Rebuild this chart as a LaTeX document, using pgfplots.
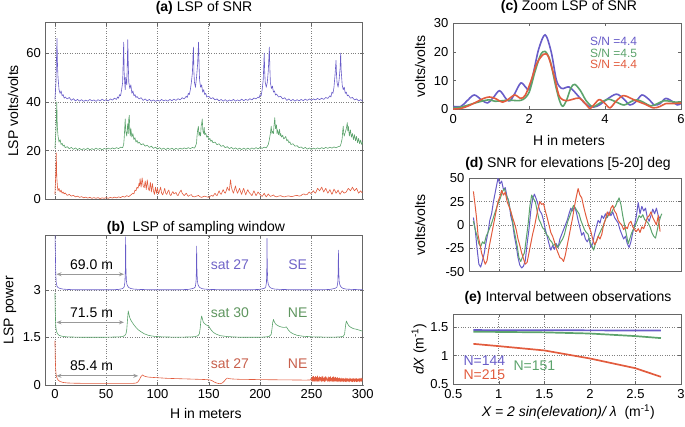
\documentclass[border=0pt]{standalone}
\usepackage{fontspec}
\setmainfont{Liberation Sans}
\usepackage{pgfplots}
\pgfplotsset{compat=1.18}
\usetikzlibrary{arrows.meta}
\definecolor{cb}{RGB}{104,92,200}
\definecolor{cg}{RGB}{92,163,108}
\definecolor{cr}{RGB}{226,92,62}
\definecolor{tb}{RGB}{112,100,200}
\definecolor{tg}{RGB}{95,150,95}
\definecolor{tr}{RGB}{200,96,76}
\pgfplotsset{
  P/.style={scale only axis, anchor=south west,
    axis line style={draw=black!60, line width=0.7pt},
    tick style={draw=black!60, line width=0.5pt},
    major tick length=3pt,
    grid style={dotted, black!50, line width=0.7pt},
    tick label style={font=\fontsize{13}{15}\selectfont},
    /pgf/number format/assume math mode=true,
    every axis plot/.append style={line join=round, line width=0.6pt},
  },
}
\begin{document}
\fontsize{14}{16.8}\selectfont
\begin{tikzpicture}
\useasboundingbox (0pt,0pt) rectangle (685pt,426pt);
% ---------------- (a)
\begin{axis}[P, at={(45.7pt,226.7pt)}, width=317pt, height=176.6pt,
  xmin=-9, xmax=300, ymin=0, ymax=72.5,
  xtick={0,50,...,300}, xticklabels={}, ytick={0,20,40,60},
  xmajorgrids, ymajorgrids]
\addplot[cb] coordinates {(0,41)(1,48)(2,66)(2.5,55)(3,50)(4,45)(5,43.5)(6,44.5)(7,42.5)(8,43)(9,41.5)(10,42)(12,41.2)(14,41.8)(16,40.6)(18,41.3)(20,40.4)(22,41)(24,40.3)(26,40.9)(28,40.2)(30,40.7)(32,40.3)(34,41)(36,40.4)(38,40.8)(40,40.2)(42,40.9)(44,40.4)(46,41.1)(48,40.5)(50,40.9)(52,40.4)(54,41.2)(56,40.7)(58,41.5)(60,41)(61,42)(62,41.5)(63,43)(64,42.5)(65,45)(66,48)(66.5,56)(67,64.5)(67.5,52)(68,48)(68.5,45)(69,50)(70,47)(70.5,55)(71,65.5)(71.5,55)(72,48)(73,45.5)(74,47)(75,43.5)(76,44.5)(77,42.5)(78,43)(79,41.8)(80,42.2)(82,41.2)(84,41.7)(86,40.6)(88,41.2)(90,40.4)(92,41)(94,40.3)(96,40.8)(98,40.2)(100,40.7)(102,40.3)(104,41)(106,40.4)(108,40.8)(110,40.3)(112,41)(114,40.5)(116,41.1)(118,40.6)(120,41.3)(122,40.8)(124,41.7)(126,41.2)(128,42.3)(129,41.8)(130,43.5)(131,43)(132,45)(133,48)(134,52)(134.5,58)(135,62.5)(135.5,52)(136,48)(137,46)(138,50)(139,55)(140,64.5)(140.5,55)(141,49)(142,46)(143,47)(144,44)(145,45)(146,43)(147,43.5)(148,42)(150,42.3)(152,41.3)(154,41.7)(156,40.8)(158,41.2)(160,40.4)(162,41)(164,40.3)(166,40.9)(168,40.2)(170,40.8)(172,40.4)(174,41)(176,40.3)(178,40.8)(180,40.4)(182,41.1)(184,40.5)(186,41)(188,40.6)(190,41.3)(192,40.8)(194,41.6)(196,41.2)(198,42)(199,41.6)(200,43)(201,42.5)(202,45)(203,49)(203.5,54)(204,60)(204.5,52)(205,48)(206,46)(207,48)(208,53)(209,62.5)(209.5,54)(210,48)(211,45.5)(212,46.5)(213,44)(214,44.5)(215,42.8)(216,43.2)(218,42)(220,42.3)(222,41.2)(224,41.7)(226,40.6)(228,41.2)(230,40.4)(232,41)(234,40.3)(236,40.9)(238,40.4)(240,41)(242,40.5)(244,41.1)(246,40.6)(248,41.2)(250,40.7)(252,41.2)(254,40.8)(256,41.4)(258,40.9)(260,41.5)(262,41)(264,41.8)(266,41.4)(268,42.5)(269,42)(270,44)(271,43.5)(272,46)(273,51)(274,57)(274.5,51)(275,48)(276,46)(277,49)(278,54)(278.5,60)(279,53)(280,47)(281,45)(282,46)(283,43.5)(284,44)(285,42.5)(286,42.8)(288,41.5)(290,41.8)(292,40.8)(294,41.2)(296,40.4)(298,40.9)(300,40.3)};
\addplot[cg] coordinates {(0,21)(1,28)(1.8,40)(2.3,30)(3,26)(4,23.5)(5,24.5)(6,22.5)(7,23)(8,21.8)(9,22.3)(10,21.2)(12,21.6)(14,20.8)(16,21.3)(18,20.5)(20,21.1)(22,20.4)(24,20.9)(26,20.3)(28,20.8)(30,20.4)(32,21)(34,20.3)(36,20.8)(38,20.4)(40,21)(42,20.5)(44,20.9)(46,20.3)(48,20.9)(50,20.5)(52,21)(54,20.6)(56,21.1)(58,20.7)(60,21.2)(62,20.8)(64,21.4)(66,21.2)(67,22.5)(67.5,25)(68,29)(68.5,33)(69,28)(70,26)(70.5,29)(71,31)(71.5,27)(72,33)(72.5,34.5)(73,28)(73.5,26)(74,29)(75,25.5)(76,27)(77,24.5)(78,25.3)(79,23.5)(80,24.2)(81,23)(82,23.5)(84,22.4)(86,22.8)(88,21.8)(90,22.2)(92,21.3)(94,21.8)(96,20.9)(98,21.4)(100,20.6)(102,21.2)(104,20.5)(106,21)(108,20.4)(110,21)(112,20.5)(114,21)(116,20.4)(118,20.9)(120,20.5)(122,21)(124,20.6)(126,21.1)(128,20.7)(130,21.2)(132,20.8)(134,21.3)(136,21)(137,21.8)(138,23)(138.5,26)(139,28)(139.8,30)(140.5,26)(141,27.5)(142,26)(142.5,30)(143,31)(143.6,33)(144.2,28)(145,27)(145.5,29.5)(146,26.5)(147,27.2)(148,25.5)(149,26)(150,24.5)(151,25)(152,23.8)(153,24.3)(154,23.2)(156,23.5)(158,22.4)(160,22.8)(162,21.7)(164,22.1)(166,21.2)(168,21.6)(170,20.8)(172,21.3)(174,20.6)(176,21.1)(178,20.5)(180,21)(182,20.4)(184,21)(186,20.5)(188,21)(190,20.5)(192,21.1)(194,20.6)(196,21.2)(198,20.7)(200,21.3)(202,20.9)(204,21.4)(206,21.1)(207,21.8)(208,22.5)(209,24.5)(210,27)(210.8,30)(211.5,27)(212,28)(213,27)(213.5,30)(214.3,33.5)(215,29)(216,30.5)(216.5,27)(217,28.5)(218,26.5)(219,28.7)(219.5,26)(220,27)(221,25.5)(222,26.3)(223,24.8)(224,25.2)(225,25.8)(226,24)(227,24.5)(228,23.2)(229,23.6)(230,22.5)(232,22.8)(234,21.8)(236,22)(238,21.2)(240,21.5)(242,20.8)(244,21.3)(246,20.6)(248,21.1)(250,20.5)(252,21)(254,20.6)(256,21.1)(258,20.7)(260,21.2)(262,20.8)(264,21.3)(266,20.9)(268,21.4)(270,21)(272,21.5)(274,21.1)(276,21.6)(278,21.8)(279,23)(280,25)(280.5,28)(281,30)(281.5,27)(282,26)(283,27.5)(284,29)(285,31.5)(285.5,28)(286,30)(287,26)(288,28.5)(289,25.5)(290,27)(291,24.5)(292,26.5)(293,24)(294,25.8)(295,23.2)(296,25)(297,22.8)(298,24.3)(299,22.5)(300,23.5)};
\addplot[cr] coordinates {(0,2)(0.8,10)(1.3,19)(1.8,9)(2.5,5)(3,3.5)(4,4.5)(5,3)(6,3.8)(7,2.5)(8,3)(9,2.2)(10,2.6)(12,1.6)(14,2)(16,1.3)(18,1.6)(20,1)(22,1.3)(24,0.8)(26,1.1)(28,0.6)(30,0.9)(32,0.5)(34,0.8)(36,0.4)(38,0.7)(40,0.4)(42,0.7)(44,0.3)(46,0.6)(48,0.4)(50,0.7)(52,0.4)(54,0.8)(56,0.5)(58,0.9)(60,0.6)(62,1)(64,0.7)(66,1.2)(68,0.9)(70,1.5)(72,1.1)(74,1.8)(76,2.5)(77,2.2)(78,3.8)(79,3.5)(80,5)(81,4.5)(82,6.5)(82.5,5.5)(83,8.5)(84,5)(85,8.8)(86,5.5)(87,4.8)(88,7.5)(89,4)(90,8)(91,4.5)(92,3.5)(93,7)(94,3)(95,6.5)(96,3.5)(97,2)(98,5)(99,2.5)(100,4.5)(101,2.2)(102,3.5)(103,5)(104,2.5)(105,1.8)(106,3)(107,4.5)(108,2.5)(109,2)(110,3.2)(111,3.8)(112,2)(113,1.5)(114,2.5)(115,3.2)(116,2.2)(118,2.8)(119,1.8)(120,1.5)(121,2.5)(123,3.8)(124,2.5)(126,1.5)(127,2)(128,2.5)(129,1.8)(130,1.2)(131,1.6)(133,1.9)(134,1.2)(136,1)(138,1.3)(140,1.6)(141,1.1)(143,0.8)(144,1)(146,1.3)(148,1)(150,0.8)(151,1.2)(153,1.6)(154,1.2)(156,2.5)(157,1.8)(158,1.5)(159,2.5)(160,3.5)(161,2.5)(162,2)(163,3)(164,4)(165,3)(166,2.5)(167,3.5)(168,5)(169,4)(170,3.5)(170.6,6)(171.2,8)(172,5)(173,3.5)(174,2.5)(175,4)(176,5.5)(177,3.5)(178,2.5)(179,3.5)(180,4.5)(181,3)(182,2)(183,3.5)(184,4.5)(185,3)(186,1.8)(187,3)(188,4)(189,3)(190,2.5)(191,2)(192,1.5)(193,2.5)(194,3.5)(195,2.5)(196,1.5)(197,2.2)(198,3)(199,2.4)(200,2)(201,1.5)(202,1.2)(203,1.8)(204,2.5)(205,1.6)(206,1)(207,1.6)(208,2.2)(209,1.6)(210,1.2)(212,1.5)(213,1.8)(214,1.3)(216,1)(218,1.3)(220,1.5)(222,1.1)(224,1)(226,1.3)(228,1.4)(230,1.1)(232,1.2)(234,1.5)(236,1.6)(238,1.3)(240,1.5)(241,2)(243,2.2)(244,1.8)(246,2)(247,2.6)(248,3)(249,2.4)(250,2.5)(251,3)(252,3.5)(253,2.8)(254,2.5)(255,3.5)(256,4.5)(257,4)(258,3.5)(259,4.2)(260,5)(261,4)(262,3)(263,3.8)(264,4.5)(265,3.5)(266,2.5)(267,3.2)(268,4)(269,3)(270,2)(271,3)(272,4.2)(273,3.5)(274,2.5)(275,3)(276,3.8)(277,2.8)(278,2)(279,2.8)(280,3.5)(281,3)(282,2.5)(283,2.8)(284,3)(285,3.8)(286,4.5)(287,4)(288,3.5)(289,4.2)(290,5)(291,4.2)(292,3.5)(293,4)(294,4.5)(295,3.5)(296,2.5)(297,3)(298,3.5)(299,2.8)(300,3)};
\end{axis}
% ---------------- (b)
\begin{axis}[P, at={(45.7pt,41pt)}, width=317pt, height=150pt,
  xmin=-9, xmax=300, ymin=0, ymax=4.74,
  xtick={0,50,...,300}, ytick={0,1.5,3},
  xmajorgrids, ymajorgrids]
\addplot[cb] coordinates {(0,5)(0.4,4.2)(0.8,3.5)(1.2,3.25)(2,3.12)(3,3.08)(5,3.05)(8,3.03)(12,3.02)(20,3.01)(40,3.01)(55,3.01)(62,3.02)(65,3.04)(66.5,3.06)(67.5,3.1)(68.2,3.25)(68.6,3.6)(68.9,4.68)(69.2,3.7)(69.6,3.3)(70.2,3.18)(71,3.12)(72,3.08)(74,3.05)(77,3.03)(82,3.02)(95,3.01)(120,3.01)(130,3.02)(133,3.04)(135.5,3.06)(136.8,3.1)(137.5,3.25)(137.9,3.6)(138.1,4.39)(138.4,3.7)(138.8,3.3)(139.4,3.18)(140.2,3.12)(141.2,3.08)(143,3.05)(146,3.03)(151,3.02)(165,3.01)(190,3.01)(199,3.02)(202,3.04)(204.5,3.06)(205.5,3.1)(206.2,3.25)(206.5,3.6)(206.7,4.63)(207,3.7)(207.4,3.3)(208,3.18)(208.8,3.12)(209.8,3.08)(211.5,3.05)(214.5,3.03)(220,3.02)(235,3.01)(260,3.01)(268,3.02)(271,3.04)(273.5,3.06)(275,3.1)(275.7,3.25)(276.1,3.6)(276.3,4.26)(276.6,3.7)(277,3.3)(277.6,3.18)(278.4,3.12)(279.4,3.08)(281,3.05)(284,3.03)(290,3.02)(300,3.01)};
\addplot[cg] coordinates {(0,2.9)(0.4,2.2)(0.8,1.85)(1.5,1.7)(2.5,1.62)(4,1.57)(7,1.54)(12,1.52)(25,1.51)(50,1.51)(62,1.52)(66,1.53)(68,1.56)(69.3,1.62)(70,1.75)(70.6,2.0)(71.2,2.25)(71.5,2.34)(72,2.25)(72.5,2.18)(73,2.12)(74,2.05)(75.5,1.97)(77,1.9)(79,1.82)(81,1.75)(84,1.68)(87,1.62)(91,1.57)(96,1.54)(105,1.52)(120,1.51)(133,1.52)(137,1.53)(139.5,1.56)(140.8,1.62)(141.6,1.8)(142.3,2.05)(143,2.18)(143.7,2.1)(144.5,2.0)(145.5,1.95)(147,1.91)(148.5,1.88)(150,1.86)(151,1.8)(152.5,1.73)(154.5,1.66)(157,1.61)(161,1.56)(168,1.53)(180,1.51)(200,1.51)(206,1.52)(209,1.54)(210.8,1.6)(211.6,1.78)(212.3,1.98)(213,2.07)(213.8,2.0)(215,1.93)(217,1.88)(219,1.85)(221,1.83)(223,1.82)(224.5,1.82)(225.5,1.84)(226.3,1.8)(227.5,1.74)(229.5,1.67)(232,1.62)(236,1.57)(242,1.54)(252,1.52)(270,1.51)(278,1.52)(281,1.54)(282.3,1.6)(283,1.8)(283.6,1.95)(284.2,2.02)(285,1.95)(286.5,1.87)(288.5,1.82)(291,1.78)(294,1.76)(297,1.73)(300,1.7)};
\addplot[cr] coordinates {(0,1.4)(0.4,0.75)(0.8,0.45)(1.3,0.3)(2,0.22)(3,0.16)(5,0.11)(8,0.08)(12,0.065)(20,0.055)(40,0.05)(60,0.05)(75,0.05)(79,0.06)(81,0.1)(82.5,0.18)(84,0.27)(85.4,0.32)(86.5,0.29)(88,0.27)(91,0.25)(95,0.24)(100,0.23)(110,0.21)(120,0.2)(130,0.19)(140,0.18)(148,0.17)(151,0.16)(153,0.14)(155,0.1)(157,0.07)(159,0.05)(161,0.04)(163,0.06)(165,0.12)(166.5,0.18)(168,0.22)(170,0.2)(173,0.19)(180,0.18)(190,0.175)(200,0.17)(215,0.165)(230,0.16)(245,0.155)(249,0.16)(250,0.22)(250.5,0.12)(251,0.26)(251.5,0.11)(252,0.28)(252.5,0.13)(253,0.24)(253.5,0.1)(254,0.27)(254.5,0.14)(255,0.25)(255.5,0.1)(256,0.29)(256.5,0.12)(257,0.23)(257.5,0.11)(258,0.27)(258.5,0.15)(259,0.24)(259.5,0.1)(260,0.26)(260.5,0.12)(261,0.28)(261.5,0.13)(262,0.22)(262.5,0.1)(263,0.25)(263.5,0.12)(264,0.27)(264.5,0.14)(265,0.23)(266,0.11)(266.5,0.26)(267,0.12)(267.5,0.24)(268,0.1)(268.5,0.27)(269,0.13)(269.5,0.22)(270,0.11)(270.5,0.25)(271,0.12)(271.5,0.26)(272,0.1)(272.5,0.23)(273,0.13)(273.5,0.25)(274,0.11)(274.5,0.22)(275,0.12)(275.5,0.24)(276,0.1)(276.5,0.21)(277,0.12)(277.5,0.23)(278,0.1)(278.5,0.2)(279,0.11)(279.5,0.22)(280,0.12)(280.5,0.2)(281,0.1)(281.5,0.21)(282,0.12)(282.5,0.19)(283,0.11)(283.5,0.22)(284,0.1)(284.5,0.2)(285,0.12)(285.5,0.21)(286,0.11)(286.5,0.19)(287,0.1)(287.5,0.22)(288,0.12)(288.5,0.2)(289,0.11)(289.5,0.19)(290,0.1)(290.5,0.21)(291,0.12)(291.5,0.2)(292,0.1)(292.5,0.19)(293,0.12)(293.5,0.21)(294,0.1)(294.5,0.2)(295,0.11)(295.5,0.19)(296,0.12)(296.5,0.21)(297,0.1)(297.5,0.2)(298,0.12)(298.5,0.22)(299,0.11)(299.5,0.2)(300,0.15)};
\draw[{Stealth[length=5pt,width=4pt]}-{Stealth[length=5pt,width=4pt]}, black!40, line width=0.9pt] (axis cs:1.5,3.5) -- (axis cs:67.3,3.5);
\draw[{Stealth[length=5pt,width=4pt]}-{Stealth[length=5pt,width=4pt]}, black!40, line width=0.9pt] (axis cs:1.5,1.98) -- (axis cs:67.3,1.98);
\draw[{Stealth[length=5pt,width=4pt]}-{Stealth[length=5pt,width=4pt]}, black!40, line width=0.9pt] (axis cs:1.5,0.29) -- (axis cs:81.2,0.29);
\node at (axis cs:35.7,3.8) {69.0 m};
\node at (axis cs:35.7,2.28) {71.5 m};
\node at (axis cs:35.7,0.62) {85.4 m};
\node[text=tb] at (axis cs:170.6,3.8) {sat 27};
\node[text=tb] at (axis cs:236.6,3.8) {SE};
\node[text=tg] at (axis cs:170.6,2.28) {sat 30};
\node[text=tg] at (axis cs:236.6,2.28) {NE};
\node[text=tr] at (axis cs:170.6,0.66) {sat 27};
\node[text=tr] at (axis cs:236.6,0.66) {NE};
\end{axis}
% ---------------- (c)
\begin{axis}[P, at={(453.3pt,316.7pt)}, width=227.7pt, height=86pt,
  xmin=0, xmax=6, ymin=0, ymax=30,
  xtick={0,2,4,6}, ytick={0,10,20,30},
  every axis plot/.append style={line width=1.6pt, smooth}]
\addplot[cb] coordinates {(0,1)(0.2,1)(0.35,2.8)(0.55,5)(0.75,3.2)(0.9,2.2)(1.05,4)(1.22,6.5)(1.4,3.5)(1.5,3)(1.62,5.5)(1.78,9.2)(1.92,7.5)(2.0,6.8)(2.1,12)(2.25,21)(2.42,26)(2.58,20)(2.72,10)(2.85,7.3)(2.95,7.5)(3.05,7.8)(3.2,6)(3.4,3)(3.55,1.2)(3.7,0.8)(3.85,1.5)(4.05,3.5)(4.3,5.3)(4.5,3.5)(4.65,1.5)(4.8,2.5)(4.97,5)(5.15,3.5)(5.3,1.5)(5.45,2)(5.6,3.8)(5.8,2.5)(5.9,1.5)(6,2)};
\addplot[cg] coordinates {(0,0.5)(0.2,0.8)(0.4,1.5)(0.6,2.3)(0.8,3)(0.95,3.3)(1.1,2.8)(1.3,3)(1.5,3.2)(1.7,3)(1.85,3.5)(2.0,6)(2.15,13)(2.3,19)(2.42,20.2)(2.55,17)(2.7,8)(2.8,3)(2.88,1)(2.98,3)(3.1,7.5)(3.2,8.7)(3.35,6.5)(3.5,3)(3.65,1)(3.75,1.2)(3.9,2.5)(4.1,3.5)(4.3,2.5)(4.5,1.5)(4.7,2.8)(4.85,3.3)(5.0,2.5)(5.2,1.2)(5.35,1.8)(5.55,3)(5.7,2.8)(5.85,2.5)(6,2.6)};
\addplot[cr] coordinates {(0,0.1)(0.2,0.3)(0.4,1.2)(0.6,2.5)(0.8,3.8)(0.95,4.3)(1.1,3.8)(1.3,2.5)(1.45,3.5)(1.62,5)(1.78,3.8)(1.9,5)(2.05,10)(2.2,16)(2.38,19.2)(2.5,18.5)(2.65,12)(2.78,5)(2.9,3.2)(3.0,3)(3.15,3.5)(3.32,3.9)(3.48,2)(3.6,0.3)(3.72,1.8)(3.85,3.4)(4.0,2)(4.13,0.5)(4.3,3)(4.48,4.8)(4.65,4)(4.85,2.8)(5.05,1.8)(5.27,0.5)(5.45,1)(5.6,2)(5.8,2)(6,2.2)};
\node[anchor=west, inner sep=0pt, text=cb, font=\fontsize{12}{13}\selectfont] at (axis cs:3.6,23.6) {S/N =4.4};
\node[anchor=west, inner sep=0pt, text=cg, font=\fontsize{12}{13}\selectfont] at (axis cs:3.6,19.6) {S/N =4.5};
\node[anchor=west, inner sep=0pt, text=cr, font=\fontsize{12}{13}\selectfont] at (axis cs:3.6,15.6) {S/N =4.4};
\end{axis}
% ---------------- (d)
\begin{axis}[P, at={(469.3pt,154.3pt)}, width=211.7pt, height=93.4pt,
  xmin=0.675, xmax=3, ymin=-50, ymax=50,
  xtick={1,1.5,2,2.5}, xticklabels={}, ytick={-50,-25,0,25,50},
  xmajorgrids, ymajorgrids,
  every axis plot/.append style={line width=1pt}]
\addplot[cb] coordinates {(0.72,8)(0.74,-5)(0.76,-25)(0.78,-42)(0.80,-45)(0.82,-38)(0.84,-30)(0.86,-18)(0.88,-8)(0.90,5)(0.92,12)(0.94,25)(0.96,35)(0.98,45)(0.99,50)(1.01,44)(1.03,47)(1.05,38)(1.07,40)(1.09,30)(1.11,25)(1.13,10)(1.15,2)(1.17,-12)(1.19,-22)(1.21,-35)(1.23,-43)(1.25,-46)(1.27,-44)(1.29,-38)(1.31,-20)(1.33,-5)(1.35,15)(1.37,28)(1.39,33)(1.41,28)(1.43,22)(1.45,15)(1.47,12)(1.49,5)(1.51,-5)(1.53,-12)(1.55,-20)(1.57,-27)(1.59,-22)(1.61,-26)(1.63,-20)(1.65,-24)(1.67,-15)(1.69,-10)(1.71,-5)(1.73,0)(1.75,5)(1.77,12)(1.79,18)(1.81,15)(1.83,20)(1.85,14)(1.87,5)(1.89,-3)(1.91,-11)(1.93,-8)(1.95,-15)(1.97,-18)(1.99,-14)(2.01,-24)(2.03,-20)(2.05,-10)(2.07,-2)(2.09,5)(2.11,2)(2.13,10)(2.15,7)(2.17,12)(2.19,8)(2.21,14)(2.23,10)(2.25,14)(2.27,8)(2.29,5)(2.31,2)(2.33,-5)(2.35,-10)(2.37,-15)(2.39,-12)(2.41,-20)(2.43,-24)(2.45,-18)(2.47,-8)(2.49,0)(2.51,10)(2.53,24)(2.55,12)(2.57,20)(2.59,15)(2.61,18)(2.63,8)(2.65,4)(2.67,10)(2.69,17)(2.71,12)(2.73,18)(2.75,10)(2.77,7)};
\addplot[cg] coordinates {(0.72,4)(0.74,-5)(0.76,-12)(0.78,-20)(0.80,-23)(0.82,-18)(0.84,-20)(0.86,-12)(0.88,-8)(0.90,-3)(0.92,2)(0.94,8)(0.96,14)(0.98,20)(1.00,25)(1.02,30)(1.04,36)(1.06,39)(1.08,32)(1.10,28)(1.12,18)(1.14,10)(1.16,-2)(1.18,-12)(1.20,-22)(1.22,-35)(1.24,-39)(1.26,-34)(1.28,-30)(1.30,-15)(1.32,0)(1.34,20)(1.36,32)(1.38,28)(1.40,25)(1.42,15)(1.44,6)(1.46,2)(1.48,-3)(1.50,-5)(1.52,-10)(1.54,-12)(1.56,-16)(1.58,-18)(1.60,-22)(1.62,-20)(1.64,-24)(1.66,-22)(1.68,-18)(1.70,-15)(1.72,-10)(1.74,-2)(1.76,5)(1.78,10)(1.80,16)(1.82,21)(1.84,18)(1.86,15)(1.88,12)(1.90,5)(1.92,0)(1.94,-5)(1.96,-8)(1.98,-10)(2.00,-18)(2.02,-22)(2.04,-27)(2.06,-20)(2.08,-15)(2.10,-10)(2.12,-6)(2.14,-2)(2.16,3)(2.18,8)(2.20,10)(2.22,12)(2.24,14)(2.26,18)(2.28,20)(2.30,25)(2.32,29)(2.34,22)(2.36,10)(2.38,0)(2.40,-10)(2.42,-20)(2.44,-14)(2.46,-8)(2.48,-4)(2.50,0)(2.52,5)(2.54,10)(2.56,8)(2.58,11)(2.60,6)(2.62,4)(2.64,2)(2.66,-2)(2.68,-8)(2.70,-12)(2.72,-14)(2.74,-5)(2.76,4)(2.78,10)(2.79,12)};
\addplot[cr] coordinates {(0.72,36)(0.74,20)(0.755,7)(0.77,-10)(0.79,-20)(0.81,-30)(0.83,-36)(0.85,-42)(0.87,-38)(0.89,-25)(0.91,-15)(0.93,-5)(0.95,5)(0.97,15)(0.99,25)(1.01,30)(1.03,37)(1.05,32)(1.07,35)(1.09,25)(1.11,20)(1.13,15)(1.15,8)(1.17,2)(1.19,-5)(1.21,-15)(1.23,-22)(1.25,-30)(1.27,-36)(1.29,-42)(1.31,-40)(1.33,-30)(1.35,-20)(1.37,-10)(1.39,-2)(1.41,8)(1.43,18)(1.45,25)(1.47,22)(1.49,23)(1.51,15)(1.53,8)(1.55,0)(1.57,-8)(1.59,-12)(1.61,-18)(1.63,-25)(1.65,-30)(1.67,-35)(1.69,-36)(1.71,-39)(1.73,-32)(1.75,-22)(1.77,-12)(1.79,-2)(1.81,8)(1.83,20)(1.85,30)(1.87,39)(1.89,32)(1.91,29)(1.93,20)(1.95,12)(1.97,5)(1.99,-2)(2.01,-7)(2.03,-15)(2.05,-21)(2.07,-18)(2.09,-12)(2.11,-15)(2.13,-10)(2.15,0)(2.17,6)(2.19,14)(2.21,10)(2.23,18)(2.25,21)(2.27,15)(2.29,12)(2.31,5)(2.33,2)(2.35,0)(2.37,-5)(2.39,-2)(2.41,-4)(2.43,2)(2.45,4)(2.47,-2)(2.49,-5)(2.51,-7)(2.53,-4)(2.55,-8)(2.57,-2)(2.59,-4)(2.61,2)(2.63,8)(2.65,10)(2.67,14)(2.69,8)(2.71,4)(2.73,0)(2.75,10)(2.77,-7)};
\end{axis}
% ---------------- (e)
\begin{axis}[P, at={(453.3pt,41.7pt)}, width=227.7pt, height=70pt,
  xmin=0.5, xmax=3, ymin=0.5, ymax=1.72,
  xtick={0.5,1,1.5,2,2.5,3}, ytick={0.5,1,1.5},
  xmajorgrids, ymajorgrids,
  every axis plot/.append style={line width=1.7pt}]
\addplot[cb] coordinates {(0.72,1.445)(1.5,1.442)(2.78,1.437)};
\addplot[cg] coordinates {(0.72,1.415)(1.0,1.413)(1.5,1.405)(2.0,1.385)(2.5,1.34)(2.78,1.305)};
\addplot[cr] coordinates {(0.72,1.205)(1.0,1.165)(1.5,1.09)(2.0,0.95)(2.5,0.78)(2.78,0.63)};
\node[anchor=west, inner sep=0pt, text=cb] at (axis cs:0.61,0.92) {N=144};
\node[anchor=west, inner sep=0pt, text=cr] at (axis cs:0.61,0.67) {N=215};
\node[anchor=west, inner sep=0pt, text=cg] at (axis cs:1.16,0.82) {N=151};
\end{axis}
% ---------------- titles and labels
\node at (204pt,418pt) {\textbf{(a)} LSP of SNR};
\node at (196pt,197.7pt) {\textbf{(b)}\ \ LSP of sampling window};
\node at (569pt,418.7pt) {\textbf{(c)} Zoom LSP of SNR};
\node at (568pt,261.7pt) {\textbf{(d)} SNR for elevations [5-20] deg};
\node at (568pt,127.7pt) {\textbf{(e)} Interval between observations};
\node at (205.8pt,13pt) {H in meters};
\node at (569pt,286pt) {H in meters};
\node at (568.3pt,14.3pt) {{\itshape X = 2 sin(elevation)/ λ}\ \ (m\textsuperscript{-1})};
\node[rotate=90] at (13pt,315pt) {LSP volts/volts};
\node[rotate=90] at (10pt,116pt) {LSP power};
\node[rotate=90] at (420pt,359.7pt) {volts/volts};
\node[rotate=90] at (420pt,201pt) {volts/volts};
\node[rotate=90] at (419pt,76.7pt) {{\itshape dX}\ (m\textsuperscript{-1})};
\end{tikzpicture}
\end{document}
